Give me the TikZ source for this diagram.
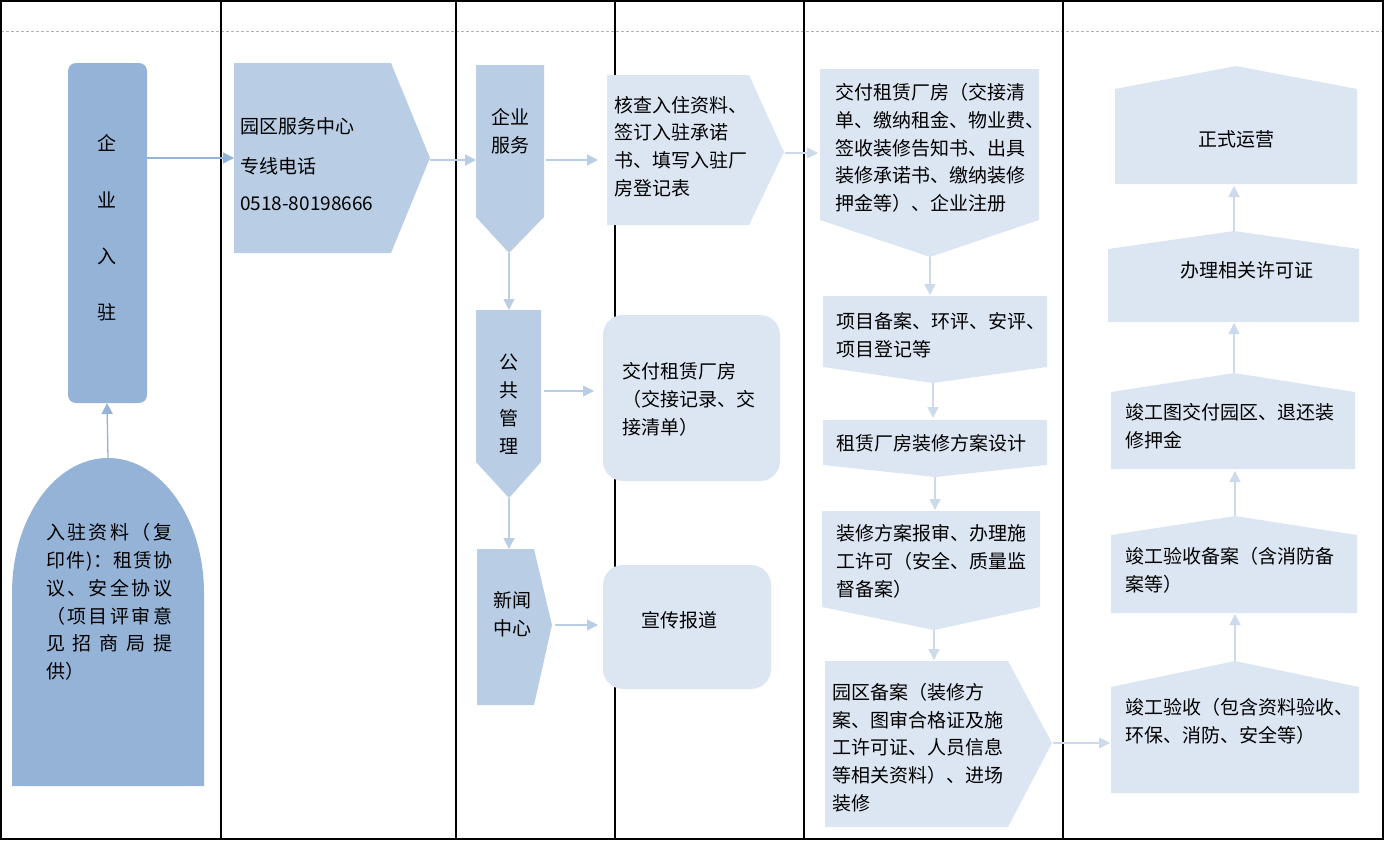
\documentclass[tikz,border=0pt]{standalone}
\usepackage{fontspec}
\setmainfont{Noto Sans CJK SC}
\usetikzlibrary{arrows.meta}
\definecolor{cdark}{HTML}{95B3D7}
\definecolor{cmid}{HTML}{B9CDE5}
\definecolor{clight}{HTML}{DCE6F2}
\definecolor{carr}{HTML}{CCDAEC}
\tikzset{
  lane/.style={line width=1.2pt, draw=black},
  txt/.style={inner sep=0pt, align=left, font=\fontsize{19}{27.7}\selectfont, text=black},
  ctxt/.style={inner sep=0pt, align=center, font=\fontsize{19}{27.7}\selectfont, text=black},
  arrD/.style={draw=cdark, line width=1.3pt, -{Triangle[length=11pt,width=11pt]}},
  arrM/.style={draw=cmid, line width=1.3pt, -{Triangle[length=11pt,width=11pt]}},
  arrL/.style={draw=carr, line width=1.3pt, -{Triangle[length=11pt,width=11pt]}},
}
\begin{document}
\begin{tikzpicture}[x=1pt,y=-1pt]
\useasboundingbox (0,0) rectangle (1384,841);
% frame
\draw[draw=black!30, line width=0.8pt, dash pattern=on 3pt off 2pt] (1,31) -- (1383,31);
\draw[lane] (1,1) rectangle (1383,839);
\foreach \xx in {221,456,615,804,1063} \draw[lane] (\xx,1) -- (\xx,839);

% ---------- column 1
\fill[cdark, rounded corners=8pt] (68,63) rectangle (147,403);
\node[ctxt] (c1a) at (107,143) {企};
\node[ctxt] (c1b) at (107,200) {业};
\node[ctxt] (c1c) at (107,256) {入};
\node[ctxt] (c1d) at (107,312) {驻};
\coordinate (c1bot) at (107,403);
\coordinate (c1right) at (147,158);
\fill[cdark] (12,786) -- (12,593) arc[start angle=180, end angle=0, x radius=96pt, y radius=135pt] -- (204,786) -- cycle;
\coordinate (domeTop) at (108,458);
\node[txt, anchor=west] (dome) at (46,602) {%
\makebox[126pt][s]{入\hfil 驻\hfil 资\hfil 料\hfil （\hfil 复}\\
\makebox[126pt][s]{印\hfil 件\hfil )\hfil ：\hfil 租\hfil 赁\hfil 协}\\
\makebox[126pt][s]{议\hfil 、\hfil 安\hfil 全\hfil 协\hfil 议}\\
\makebox[126pt][s]{（\hfil 项\hfil 目\hfil 评\hfil 审\hfil 意}\\
\makebox[126pt][s]{见\hfil 招\hfil 商\hfil 局\hfil 提}\\
供）};
\draw[arrD] (domeTop) -- (c1bot);

% ---------- column 2
\fill[cmid] (234,63) -- (391,63) -- (430,158) -- (391,253) -- (234,253) -- cycle;
\coordinate (c2left) at (234,158);
\coordinate (c2tip) at (430,160);
\node[txt, anchor=west] (c2a) at (240,126) {园区服务中心};
\node[txt, anchor=west] (c2b) at (240,166) {专线电话};
\node[txt, anchor=west] (c2c) at (240,204) {0518-80198666};
\draw[arrD] (c1right) -- (c2left);

% ---------- column 3
\fill[cmid] (476,65) -- (544,65) -- (544,217) -- (509,253) -- (476,217) -- cycle;
\node[ctxt] (s1) at (510,131) {企业\\服务};
\coordinate (s1left) at (476,160);
\coordinate (s1right) at (546,160);
\coordinate (s1bot) at (509,253);
\draw[arrM] (c2tip) -- (s1left);

\fill[cmid] (476,310) -- (541,310) -- (541,462) -- (509,498) -- (476,462) -- cycle;
\node[ctxt] (g1) at (509,362) {公};
\node[ctxt] (g2) at (509,390) {共};
\node[ctxt] (g3) at (509,418) {管};
\node[ctxt] (g4) at (509,446) {理};
\coordinate (s2top) at (509,310);
\coordinate (s2right) at (544,391);
\coordinate (s2bot) at (509,498);
\draw[arrM] (s1bot) -- (s2top);

\fill[cmid] (477,549) -- (534,549) -- (552,625) -- (534,705) -- (477,705) -- cycle;
\node[ctxt] (s3) at (512,614) {新闻\\中心};
\coordinate (s3top) at (509,549);
\coordinate (s3right) at (555,625);
\draw[arrM] (s2bot) -- (s3top);

% ---------- column 4
\fill[clight] (607,75) -- (749,75) -- (784,152) -- (749,225) -- (607,225) -- cycle;
\node[txt, anchor=west] (k1) at (614,146.5) {核查入住资料、\\签订入驻承诺\\书、填写入驻厂\\房登记表};
\coordinate (k1left) at (598,160);
\coordinate (k1tip) at (785,153);
\draw[arrM] (s1right) -- (k1left);

\fill[clight, rounded corners=20pt] (603,315) rectangle (780,481);
\node[txt, anchor=west] (k2) at (622,399.5) {交付租赁厂房\\（交接记录、交\\接清单）};
\coordinate (k2left) at (594,391);
\draw[arrM] (s2right) -- (k2left);

\fill[clight, rounded corners=20pt] (603,565) rectangle (771,689);
\node[txt, anchor=west] (k3) at (641,620) {宣传报道};
\coordinate (k3left) at (598,625);
\draw[arrM] (s3right) -- (k3left);

% ---------- column 5
\fill[clight] (820,69) -- (1039,69) -- (1039,220) -- (930,257) -- (820,220) -- cycle;
\node[txt, anchor=west] (p1) at (835,148) {交付租赁厂房（交接清\\单、缴纳租金、物业费、\\签收装修告知书、出具\\装修承诺书、缴纳装修\\押金等）、企业注册};
\coordinate (p1left) at (818,153);
\coordinate (p1bot) at (930,257);
\draw[arrL] (k1tip) -- (p1left);

\fill[clight] (823,296) -- (1047,296) -- (1047,367) -- (933,383) -- (823,367) -- cycle;
\node[txt, anchor=west] (p2) at (836,335) {项目备案、环评、安评、\\项目登记等};
\coordinate (p2top) at (930,295);
\coordinate (p2bot) at (933,383);
\draw[arrL] (p1bot) -- (p2top);

\fill[clight] (823,420) -- (1047,420) -- (1047,465) -- (935,477) -- (823,465) -- cycle;
\node[txt, anchor=west] (p3) at (836,443) {租赁厂房装修方案设计};
\coordinate (p3top) at (933,418);
\coordinate (p3bot) at (935,477);
\draw[arrL] (p2bot) -- (p3top);

\fill[clight] (822,511) -- (1040,511) -- (1040,607) -- (934,630) -- (822,607) -- cycle;
\node[txt, anchor=west] (p4) at (836,561.5) {装修方案报审、办理施\\工许可（安全、质量监\\督备案）};
\coordinate (p4top) at (935,510);
\coordinate (p4bot) at (934,630);
\draw[arrL] (p3bot) -- (p4top);

\fill[clight] (825,661) -- (1008,661) -- (1052,743) -- (1008,827) -- (825,827) -- cycle;
\node[txt, anchor=west] (p5) at (832,747.5) {园区备案（装修方\\案、图审合格证及施\\工许可证、人员信息\\等相关资料）、进场\\装修};
\coordinate (p5top) at (934,660);
\coordinate (p5tip) at (1053,743);
\draw[arrL] (p4bot) -- (p5top);

% ---------- column 6
\fill[clight] (1111,687) -- (1235,661) -- (1359,687) -- (1359,793) -- (1111,793) -- cycle;
\node[txt, anchor=west] (q1) at (1125,721) {竣工验收（包含资料验收、\\环保、消防、安全等）};
\coordinate (q1left) at (1110,743);
\coordinate (q1top) at (1235,661);
\draw[arrL] (p5tip) -- (q1left);

\fill[clight] (1111,535) -- (1235,516) -- (1357,535) -- (1357,613) -- (1111,613) -- cycle;
\node[txt, anchor=west] (q2) at (1125,570) {竣工验收备案（含消防备\\案等）};
\coordinate (q2bot) at (1235,614);
\coordinate (q2top) at (1235,516);
\draw[arrL] (q1top) -- (q2bot);

\fill[clight] (1111,392) -- (1234,373) -- (1355,392) -- (1355,469) -- (1111,469) -- cycle;
\node[txt, anchor=west] (q3) at (1125,426.5) {竣工图交付园区、退还装\\修押金};
\coordinate (q3bot) at (1235,471);
\coordinate (q3top) at (1234,373);
\draw[arrL] (q2top) -- (q3bot);

\fill[clight] (1108,249) -- (1234,231) -- (1359,249) -- (1359,322) -- (1108,322) -- cycle;
\node[txt, anchor=west] (q4) at (1180,270) {办理相关许可证};
\coordinate (q4bot) at (1234,323);
\coordinate (q4top) at (1234,231);
\draw[arrL] (q3top) -- (q4bot);

\fill[clight] (1115,89) -- (1236,66) -- (1357,89) -- (1357,184) -- (1115,184) -- cycle;
\node[ctxt] (q5) at (1236,139) {正式运营};
\coordinate (q5bot) at (1234,186);
\draw[arrL] (q4top) -- (q5bot);
\end{tikzpicture}
\end{document}
